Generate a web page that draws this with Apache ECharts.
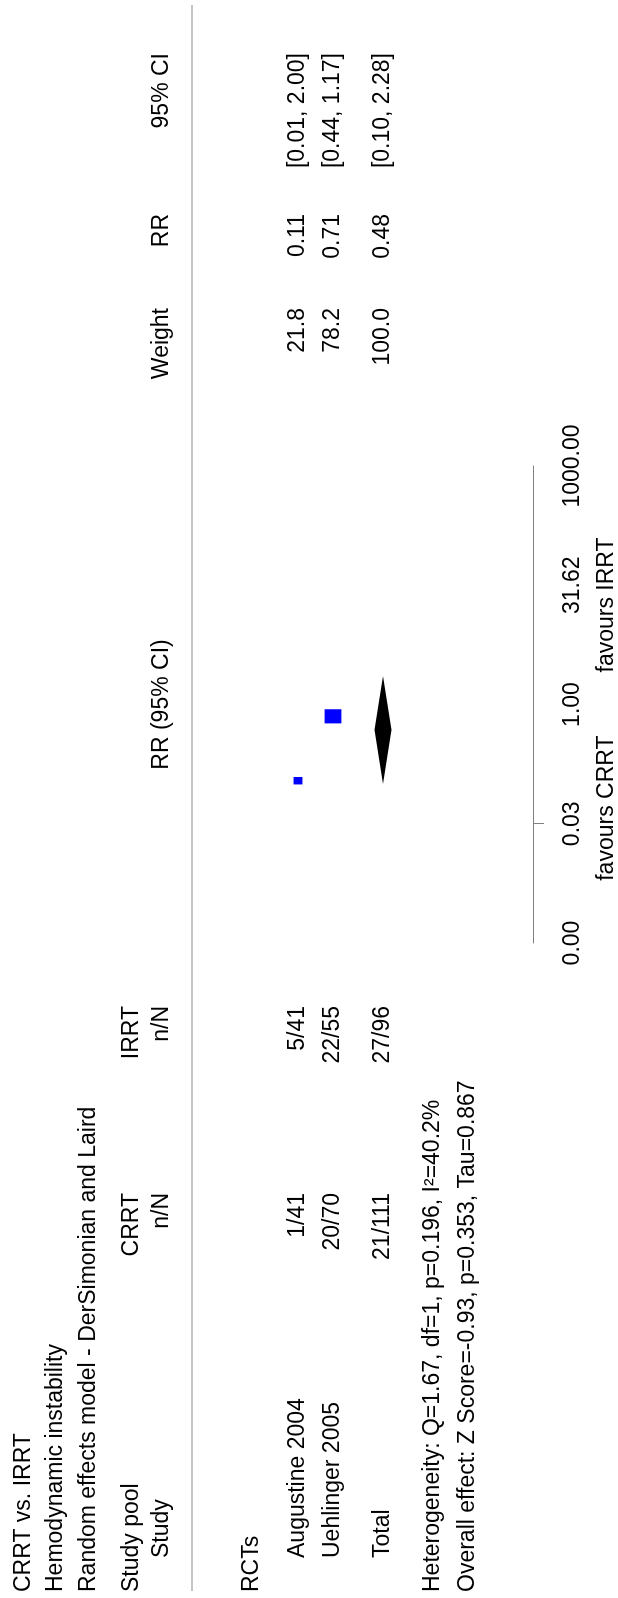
<!DOCTYPE html>
<html>
<head>
<meta charset="utf-8">
<script src="https://cdn.jsdelivr.net/npm/echarts@6/dist/echarts.min.js"></script>
<style>
  html, body { margin: 0; padding: 0; background: #fff; overflow: hidden; width: 618px; height: 1598px; }
  /* The forest plot is laid out landscape and turned a quarter turn to fit the portrait page */
  #chart { position: absolute; left: 0; top: 0; width: 1598px; height: 618px;
           transform-origin: 0 0; transform: translateY(1598px) rotate(-90deg); }
</style>
</head>
<body>
<div id="chart"></div>
<script>
// ---- data ----
const titleLines = ['CRRT vs. IRRT', 'Hemodynamic instability', 'Random effects model - DerSimonian and Laird'];
const groupName = 'RCTs';
const studies = ['Augustine 2004', 'Uehlinger 2005'];
const crrtEvents = [1, 20];
const crrtTotals = [41, 70];
const irrtEvents = [5, 22];
const irrtTotals = [41, 55];
const weights = [21.8, 78.2];
const rr = [0.11, 0.71];
const ciLow = [0.01, 0.44];
const ciHigh = [2.00, 1.17];
const pooledRR = 0.48;
const pooledLow = 0.10;
const pooledHigh = 2.28;
const pooledWeight = 100.0;
const heterogeneityText = 'Heterogeneity: Q=1.67, df=1, p=0.196, I\u00B2=40.2%';
const overallText = 'Overall effect: Z Score=-0.93, p=0.353, Tau=0.867';
const tickExponents = [-3, -1.5, 0, 1.5, 3];
const tickLabels = ['0.00', '0.03', '1.00', '31.62', '1000.00'];
const favourLeft = 'favours CRRT';
const favourRight = 'favours IRRT';

// ---- layout ----
const FONT_FAMILY = '"Liberation Sans", Arial, sans-serif';
const FS = 23;
const row = { title: 24, outcome: 56, model: 89, head1: 132, head2: 162, group: 252,
              studies: [298, 333], total: 383, het: 433, overall: 468, ticks: 573, favours: 607 };
const col = { left: 6, indent: 40, crrt: 405, irrt: 592, weight: 1290, rr: 1384, ci: 1545 };
const AXIS_Y = 533;

function txt(text, x, y, align) {
  const a = align || 'left';
  return { type: 'text', x: x, y: y, silent: true,
    style: { text: text, fill: '#000', font: FS + 'px ' + FONT_FAMILY,
             textAlign: a, align: a, textVerticalAlign: 'middle', verticalAlign: 'middle' } };
}

const chart = echarts.init(document.getElementById('chart'), null, { renderer: 'canvas', width: 1598, height: 618 });

const sumCrrtE = crrtEvents.reduce((s, v) => s + v, 0);
const sumCrrtN = crrtTotals.reduce((s, v) => s + v, 0);
const sumIrrtE = irrtEvents.reduce((s, v) => s + v, 0);
const sumIrrtN = irrtTotals.reduce((s, v) => s + v, 0);

chart.setOption({
  animation: false,
  backgroundColor: '#fff',
  grid: { left: 655, right: 1598 - 1132, top: 0, bottom: 618 - AXIS_Y, containLabel: false },
  xAxis: {
    type: 'value', min: -3, max: 3, interval: 1.5, position: 'bottom',
    axisLine: { show: true, onZero: false, lineStyle: { color: '#808080', width: 1 } },
    axisTick: { show: true, customValues: [-1.5], length: 11, lineStyle: { color: '#808080', width: 1 } },
    axisLabel: {
      show: true, margin: row.ticks - AXIS_Y, verticalAlign: 'middle', color: '#000',
      fontSize: FS, fontFamily: FONT_FAMILY, showMinLabel: true, showMaxLabel: true,
      formatter: function (v) {
        const i = tickExponents.findIndex(e => Math.abs(e - v) < 1e-9);
        return i >= 0 ? tickLabels[i] : '';
      }
    },
    splitLine: { show: false }
  },
  yAxis: { type: 'value', min: 0, max: AXIS_Y, inverse: true, show: false },
  series: [
    {
      name: 'studies', type: 'scatter', symbol: 'rect',
      itemStyle: { color: '#0000ff', opacity: 1 },
      symbolSize: function (val) { const s = Math.sqrt(val[2]); return [1.6 * s, 1.9 * s]; },
      data: studies.map((n, i) => [Math.log10(rr[i]), row.studies[i], weights[i]]),
      silent: true
    },
    {
      name: 'pooled', type: 'custom', silent: true,
      data: [[Math.log10(pooledLow), Math.log10(pooledRR), Math.log10(pooledHigh), row.total]],
      renderItem: function (params, api) {
        const y = api.value(3);
        const a = api.coord([api.value(0), y]);
        const m = api.coord([api.value(1), y]);
        const b = api.coord([api.value(2), y]);
        const h = 8.4;
        return { type: 'polygon',
          shape: { points: [[a[0], a[1]], [m[0], m[1] - h], [b[0], b[1]], [m[0], m[1] + h]] },
          style: { fill: '#000', opacity: 1 } };
      }
    }
  ]
});

// Header, table text and the "favours" captions, placed relative to the axis
const oneX = chart.convertToPixel({ xAxisIndex: 0 }, 0);
const els = [];
els.push({ type: 'line', silent: true, shape: { x1: 7, y1: 192, x2: 1593, y2: 192 },
           style: { stroke: '#c4c4c4', lineWidth: 2 } });
titleLines.forEach((t, i) => els.push(txt(t, col.left, [row.title, row.outcome, row.model][i])));
els.push(txt('Study pool', col.left, row.head1));
els.push(txt('CRRT', col.crrt, row.head1, 'right'));
els.push(txt('IRRT', col.irrt, row.head1, 'right'));
els.push(txt('Study', col.indent, row.head2));
els.push(txt('n/N', col.crrt, row.head2, 'right'));
els.push(txt('n/N', col.irrt, row.head2, 'right'));
els.push(txt('RR (95% CI)', oneX, row.head2, 'center'));
els.push(txt('Weight', col.weight, row.head2, 'right'));
els.push(txt('RR', col.rr, row.head2, 'right'));
els.push(txt('95% CI', col.ci, row.head2, 'right'));
els.push(txt(groupName, col.left, row.group));
studies.forEach((s, i) => {
  const y = row.studies[i];
  els.push(txt(s, col.indent, y));
  els.push(txt(crrtEvents[i] + '/' + crrtTotals[i], col.crrt, y, 'right'));
  els.push(txt(irrtEvents[i] + '/' + irrtTotals[i], col.irrt, y, 'right'));
  els.push(txt(weights[i].toFixed(1), col.weight, y, 'right'));
  els.push(txt(rr[i].toFixed(2), col.rr, y, 'right'));
  els.push(txt('[' + ciLow[i].toFixed(2) + ', ' + ciHigh[i].toFixed(2) + ']', col.ci, y, 'right'));
});
els.push(txt('Total', col.indent, row.total));
els.push(txt(sumCrrtE + '/' + sumCrrtN, col.crrt, row.total, 'right'));
els.push(txt(sumIrrtE + '/' + sumIrrtN, col.irrt, row.total, 'right'));
els.push(txt(pooledWeight.toFixed(1), col.weight, row.total, 'right'));
els.push(txt(pooledRR.toFixed(2), col.rr, row.total, 'right'));
els.push(txt('[' + pooledLow.toFixed(2) + ', ' + pooledHigh.toFixed(2) + ']', col.ci, row.total, 'right'));
els.push(txt(heterogeneityText, col.left, row.het));
els.push(txt(overallText, col.left, row.overall));
els.push(txt(favourLeft, oneX - 31, row.favours, 'right'));
els.push(txt(favourRight, oneX + 32, row.favours, 'left'));

chart.setOption({ graphic: { elements: els } });
</script>
</body>
</html>
